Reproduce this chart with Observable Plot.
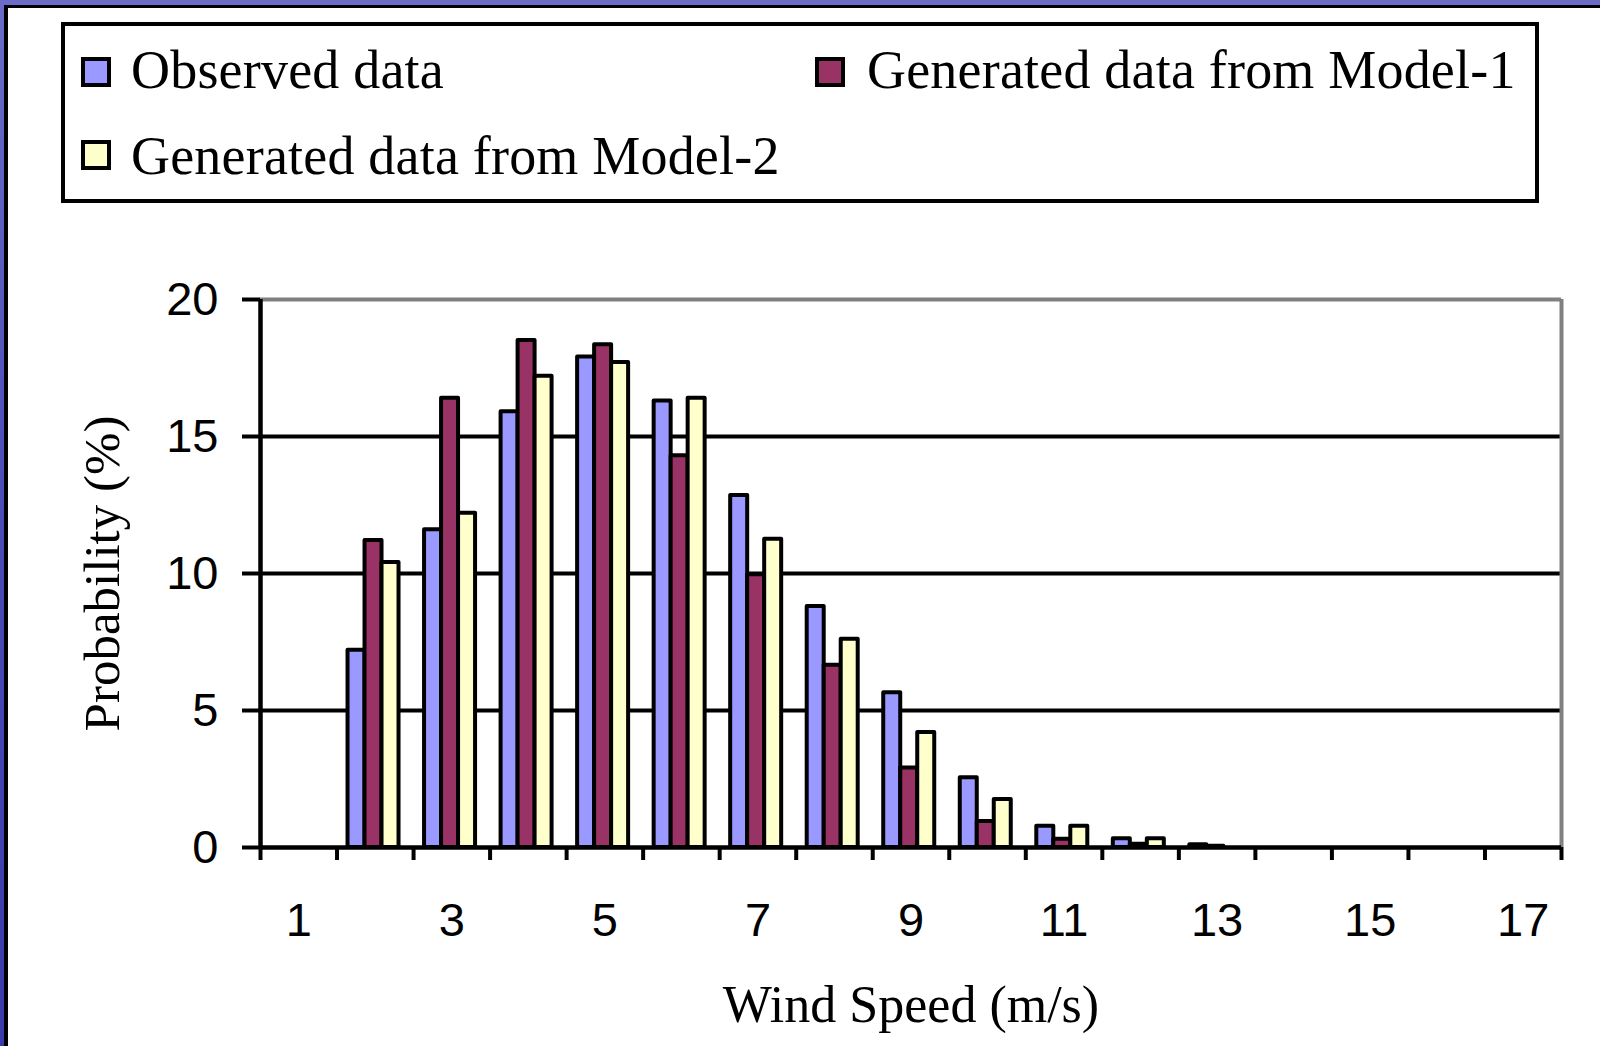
<!DOCTYPE html>
<html>
<head>
<meta charset="utf-8">
<script src="https://cdn.jsdelivr.net/npm/d3@7"></script>
<script src="https://cdn.jsdelivr.net/npm/@observablehq/plot@0.6"></script>
<style>
  html, body { margin: 0; padding: 0; width: 1600px; height: 1046px; overflow: hidden; }
  body { background: linear-gradient(180deg, #6a6cc8 0%, #4a4cb8 50%, #3a3aa8 100%); position: relative; }
  #panel { position: absolute; left: 4px; top: 5px; width: 1620px; height: 1080px; background: #fff;
           border-left: 4px solid #000; border-top: 3px solid #000; }
  #legend { position: absolute; left: 61px; top: 22px; width: 1478px; height: 181px; box-sizing: border-box;
            border: 4px solid #000; background: #fff; font-family: "Liberation Serif", "Times New Roman", serif;
            font-size: 54px; color: #000; letter-spacing: 0.2px; }
  .item { position: absolute; white-space: nowrap; line-height: 1; }
  .sw { position: absolute; width: 30px; height: 30px; box-sizing: border-box; border: 4px solid #000; }
  .lbl { position: absolute; }
  #chart { position: absolute; left: 0; top: 210px; }
</style>
</head>
<body>
<div id="panel"></div>
<div id="legend"></div>
<div id="chart"></div>
<script>
// ---- data ----
const categories = [1, 2, 3, 4, 5, 6, 7, 8, 9, 10, 11, 12, 13, 14, 15, 16, 17];
const observed = [0, 7.2, 11.6, 15.9, 17.9, 16.3, 12.85, 8.8, 5.65, 2.55, 0.78, 0.32, 0.1, 0, 0, 0, 0];
const model1   = [0, 11.2, 16.4, 18.5, 18.35, 14.3, 9.95, 6.65, 2.9, 0.95, 0.3, 0.12, 0.05, 0, 0, 0, 0];
const model2   = [0, 10.4, 12.2, 17.2, 17.7, 16.4, 11.25, 7.6, 4.2, 1.75, 0.78, 0.32, 0, 0, 0, 0, 0];
const seriesNames = ["Observed data", "Generated data from Model-1", "Generated data from Model-2"];
const seriesColors = ["#9999FF", "#993366", "#FFFFCC"];
const yTicks = [0, 5, 10, 15, 20];
const xTickLabels = [1, 3, 5, 7, 9, 11, 13, 15, 17];
const xLabel = "Wind Speed (m/s)";
const yLabel = "Probability (%)";

// ---- legend (HTML) ----
const legend = document.getElementById("legend");
const legendPos = [
  {sx: 16, sy: 31, tx: 66},   // Observed
  {sx: 750, sy: 31, tx: 802}, // Model-1
  {sx: 16, sy: 114, tx: 66}   // Model-2
];
seriesNames.forEach((name, i) => {
  const p = legendPos[i];
  const sw = document.createElement("div");
  sw.className = "sw";
  sw.style.left = p.sx + "px"; sw.style.top = p.sy + "px"; sw.style.background = seriesColors[i];
  legend.appendChild(sw);
  const t = document.createElement("div");
  t.className = "lbl item";
  t.style.left = p.tx + "px"; t.style.top = (p.sy - 14 + (i === 2 ? 3 : 0)) + "px";
  t.textContent = name;
  legend.appendChild(t);
});

// ---- long table ----
const seriesValues = [observed, model1, model2];
const rows = [];
seriesNames.forEach((s, i) => categories.forEach((c, j) => {
  if (seriesValues[i][j] > 0) rows.push({series: s, cat: c, value: seriesValues[i][j]});
}));

const boundaries = categories.map(c => c - 0.5).concat([categories[categories.length - 1] + 0.5]);
const band = 1301 / categories.length;
const barW = 17, start = 11;
const barMark = (i) => Plot.rectY(rows.filter(d => d.series === seriesNames[i]), {
  x1: d => d.cat - 0.5, x2: d => d.cat + 0.5, y: "value",
  fill: seriesColors[i], stroke: "#000", strokeWidth: 4, strokeLinejoin: "round",
  insetLeft: start + i * barW, insetRight: band - (start + (i + 1) * barW)
});

const serif = "'Liberation Serif', 'Times New Roman', serif";
const chart = Plot.plot({
  width: 1600, height: 836,
  marginLeft: 260, marginRight: 39, marginTop: 89, marginBottom: 199,
  style: {fontFamily: "'Liberation Sans', Arial, sans-serif", background: "transparent", color: "#000"},
  x: {domain: [boundaries[0], boundaries[boundaries.length - 1]]},
  y: {domain: [0, 20]},
  marks: [
    Plot.ruleY([5, 10, 15], {stroke: "#000", strokeWidth: 4}),
    Plot.ruleY([20], {stroke: "#808080", strokeWidth: 4}),
    Plot.ruleX([boundaries[boundaries.length - 1]], {stroke: "#808080", strokeWidth: 4}),
    barMark(0), barMark(1), barMark(2),
    Plot.ruleY([0], {stroke: "#000", strokeWidth: 4.5}),
    Plot.ruleX([boundaries[0]], {stroke: "#000", strokeWidth: 4.5}),
    Plot.axisY({ticks: yTicks, tickSize: 18, tickPadding: 24, fontSize: 47, strokeWidth: 4, label: null}),
    Plot.axisX({ticks: boundaries, tickSize: 13, tickFormat: () => "", strokeWidth: 4, label: null}),
    Plot.axisX({ticks: xTickLabels, tickSize: 0, tickPadding: 55, fontSize: 47, label: null}),
    Plot.text([xLabel], {frameAnchor: "bottom", dy: 174, lineAnchor: "bottom", fontSize: 52,
      fontFamily: serif, letterSpacing: 3.5}),
    Plot.text([yLabel], {frameAnchor: "left", dx: -158, rotate: -90, textAnchor: "middle", fontSize: 51,
      fontFamily: serif})
  ]
});
document.getElementById("chart").appendChild(chart);
</script>
</body>
</html>
